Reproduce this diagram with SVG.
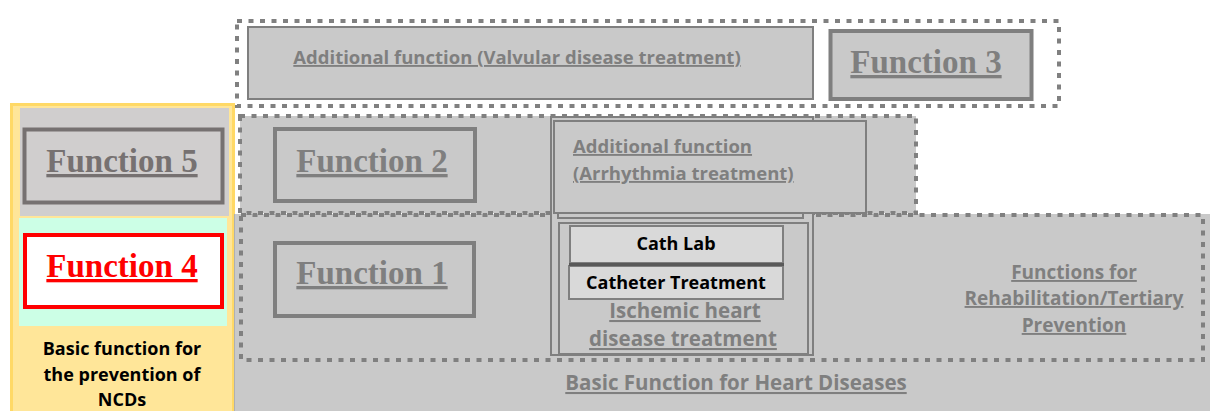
<svg xmlns="http://www.w3.org/2000/svg" width="1210" height="411" viewBox="0 0 1210 411">
  <style>
    .dots { stroke: #808080; stroke-width: 4; stroke-dasharray: 5 6.5; }
    .box { fill: #c9c9c9; stroke: #7f7f7f; stroke-width: 4; }
    .thin { fill: #c9c9c9; stroke: #7f7f7f; stroke-width: 2; }
    .fn { font-family: "Liberation Serif", "Times New Roman", serif; font-weight: bold; font-size: 33px; fill: #7f7f7f; text-anchor: middle; text-decoration: underline; }
    .lbl { font-family: "Open Sans", "Liberation Sans", sans-serif; font-weight: bold; font-size: 18.5px; fill: #7f7f7f; text-decoration: underline; }
    .big { font-size: 20.5px; }
    .blk { font-family: "Open Sans", "Liberation Sans", sans-serif; font-weight: bold; font-size: 18px; fill: #000000; text-anchor: middle; }
    .mid { text-anchor: middle; }
  </style>

  <rect width="1210" height="411" fill="#ffffff"/>

  <!-- left column: prevention of NCDs -->
  <g id="ncd-panel">
    <rect x="11.5" y="104.5" width="222" height="310" fill="#ffe699" stroke="#ffd966" stroke-width="3"/>
    <rect x="20" y="108" width="209" height="108" fill="#d0cece"/>
    <rect x="19" y="218" width="208" height="108" fill="#ccffe6"/>
    <text class="blk" x="122" y="355">Basic function for</text>
    <text class="blk" x="122" y="381">the prevention of</text>
    <text class="blk" x="122" y="406">NCDs</text>
  </g>

  <g id="function-5">
    <rect x="24.5" y="129.5" width="198" height="73" fill="#d0cece" stroke="#767171" stroke-width="4"/>
    <text class="fn" x="122" y="172" style="fill:#767171">Function 5</text>
  </g>

  <g id="function-4">
    <rect x="25" y="235" width="197" height="72" fill="#ffffff" stroke="#ff0000" stroke-width="4"/>
    <text class="fn" x="122" y="277" style="fill:#ff0000">Function 4</text>
  </g>

  <!-- heart disease area -->
  <g id="heart-basic">
    <rect x="234" y="214" width="976" height="197" fill="#c9c9c9"/>
    <line x1="234.5" y1="214" x2="234.5" y2="411" stroke="#b0b0b0" stroke-width="1"/>
    <text class="lbl big mid" x="736" y="390">Basic Function for Heart Diseases</text>
  </g>

  <g id="group-level-1">
    <rect class="dots" x="241" y="215" width="962" height="145" fill="#c9c9c9"/>
  </g>

  <g id="group-level-2">
    <rect class="dots" x="240" y="116" width="676" height="97" fill="#c9c9c9"/>
  </g>

  <g id="group-level-3">
    <rect class="dots" x="237" y="21" width="822" height="85" fill="#ffffff"/>
  </g>

  <g id="valvular">
    <rect class="thin" x="248" y="27" width="565" height="72"/>
    <text class="lbl mid" x="517" y="64">Additional function (Valvular disease treatment)</text>
  </g>

  <g id="function-3">
    <rect class="box" x="830.5" y="31" width="201" height="68"/>
    <text class="fn" x="926" y="73">Function 3</text>
  </g>

  <g id="function-2">
    <rect class="box" x="275" y="129" width="200" height="72"/>
    <text class="fn" x="372" y="172">Function 2</text>
  </g>

  <g id="function-1">
    <rect class="box" x="275" y="243" width="199" height="73"/>
    <text class="fn" x="372" y="284">Function 1</text>
  </g>

  <g id="ischemic">
    <rect class="thin" x="551" y="117" width="262" height="238"/>
    <rect class="thin" x="559" y="223" width="249" height="131"/>
    <text class="lbl big mid" x="685" y="318">Ischemic heart </text>
    <text class="lbl big mid" x="683" y="346">disease treatment</text>
  </g>

  <g id="arrhythmia">
    <rect class="thin" x="558" y="125" width="245" height="93"/>
    <rect class="thin" x="554" y="121" width="312" height="92"/>
    <text class="lbl" x="573" y="153">Additional function </text>
    <text class="lbl" x="573" y="180">(Arrhythmia treatment)</text>
  </g>

  <g id="cath-lab">
    <rect x="570" y="226" width="213" height="37" fill="#d9d9d9" stroke="#7f7f7f" stroke-width="2"/>
    <text class="blk" x="676" y="250">Cath Lab</text>
  </g>

  <g id="catheter-treatment">
    <rect x="569" y="266" width="214" height="33" fill="#d9d9d9" stroke="#7f7f7f" stroke-width="2"/>
    <line x1="569" y1="264.5" x2="784" y2="264.5" stroke="#595959" stroke-width="3"/>
    <text class="blk" x="676" y="289">Catheter Treatment</text>
  </g>

  <g id="rehabilitation">
    <text class="lbl mid" x="1074" y="279" style="font-size:19px">Functions for </text>
    <text class="lbl mid" x="1074" y="305" style="font-size:19px">Rehabilitation/Tertiary </text>
    <text class="lbl mid" x="1074" y="332" style="font-size:19px">Prevention</text>
  </g>
</svg>
